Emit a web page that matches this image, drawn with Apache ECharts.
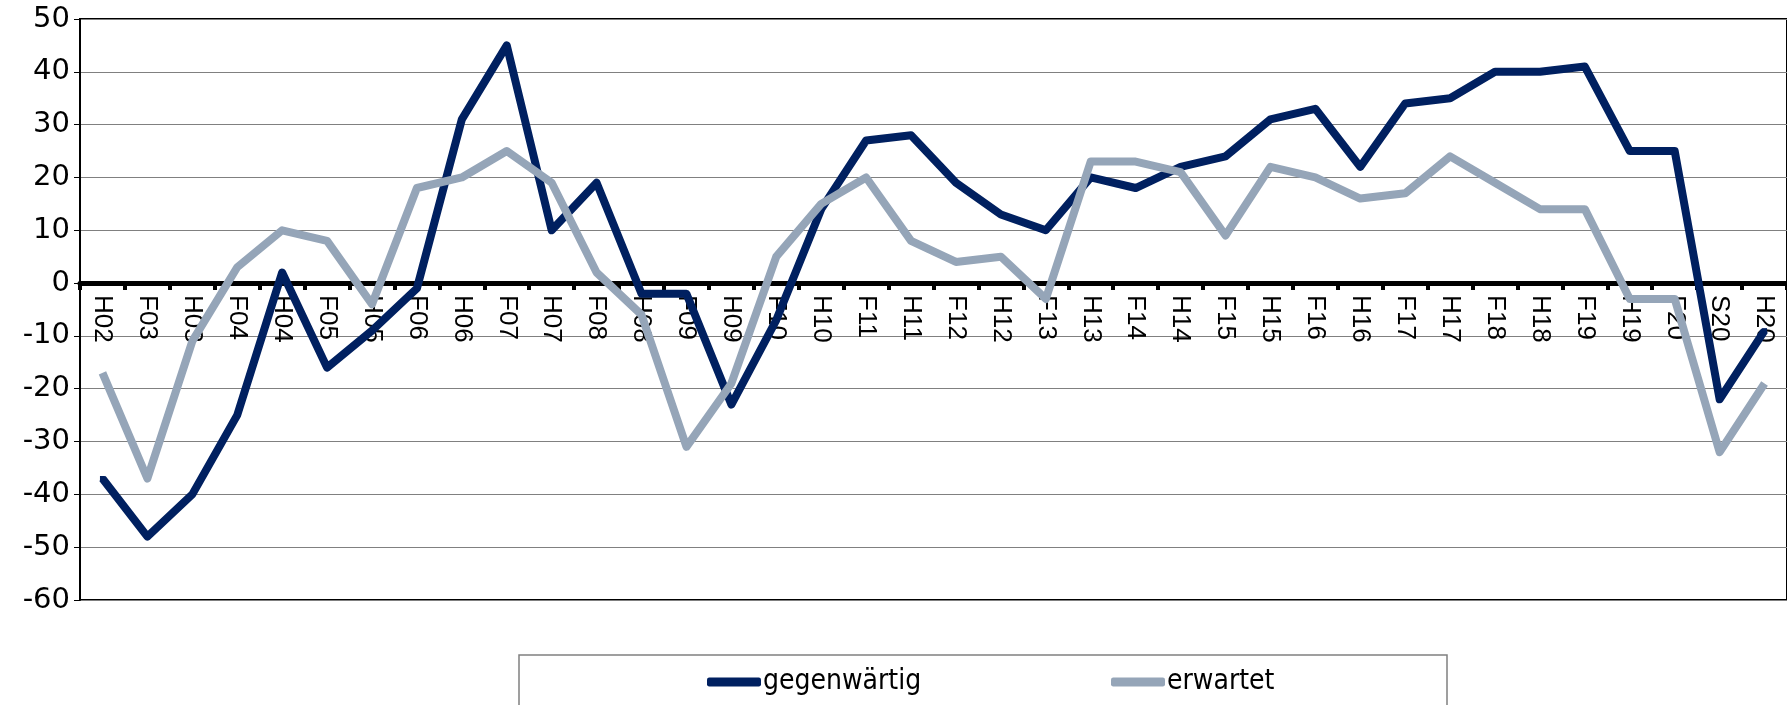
<!DOCTYPE html>
<html>
<head>
<meta charset="utf-8">
<script src="https://cdn.jsdelivr.net/npm/echarts@6/dist/echarts.min.js"></script>
<style>
    html, body { margin: 0; padding: 0; background: #fff; }
    #chart { width: 1787px; height: 705px; }
</style>
</head>
<body>
<div id="chart"></div>
<script>
// Halbjahre / Quartale
const categories = [
    'H02', 'F03', 'H03', 'F04', 'H04', 'F05', 'H05', 'F06', 'H06', 'F07',
    'H07', 'F08', 'H08', 'F09', 'H09', 'F10', 'H10', 'F11', 'H11', 'F12',
    'H12', 'F13', 'H13', 'F14', 'H14', 'F15', 'H15', 'F16', 'H16', 'F17',
    'H17', 'F18', 'H18', 'F19', 'H19', 'F20', 'S20', 'H20'
];

const gegenwaertig = [
    -37, -48, -40, -25, 2, -16, -9, -1, 31, 45,
    10, 19, -2, -2, -23, -7, 14, 27, 28, 19,
    13, 10, 20, 18, 22, 24, 31, 33, 22, 34,
    35, 40, 40, 41, 25, 25, -22, -9
];

const erwartet = [
    -17, -37, -11, 3, 10, 8, -4, 18, 20, 25,
    19, 2, -6, -31, -19, 5, 15, 20, 8, 4,
    5, -3, 23, 23, 21, 9, 22, 20, 16, 17,
    24, 19, 14, 14, -3, -3, -32, -19
];

const yMin = -60;
const yMax = 50;
const yStep = 10;

const GRID_TOP = 19;
const GRID_BOTTOM = 105;
const CHART_H = 705;

// Kategorienachse auf der Nulllinie (Beschriftung wandert mit)
const plotHeight = CHART_H - GRID_TOP - GRID_BOTTOM;
const zeroOffset = -plotHeight * (0 - yMin) / (yMax - yMin);

const legendFont = '"DejaVu Sans Condensed", "Liberation Sans", sans-serif';

const chart = echarts.init(document.getElementById('chart'), null, { renderer: 'canvas' });

chart.setOption({
    backgroundColor: '#fff',
    animation: false,
    grid: {
        left: 80,
        right: -2,
        top: GRID_TOP,
        bottom: GRID_BOTTOM,
        show: true,
        borderColor: '#000',
        borderWidth: 2,
        containLabel: false
    },
    // Legendenrahmen
    graphic: [{
        type: 'rect',
        shape: { x: 519, y: 655, width: 928, height: 80 },
        style: { fill: 'none', stroke: '#808080', lineWidth: 1.5 },
        silent: true
    }],
    legend: [{
        data: ['gegenwärtig'],
        left: 707,
        top: 668,
        icon: 'roundRect',
        itemWidth: 54,
        itemHeight: 9,
        itemGap: 4,
        padding: 0,
        textStyle: { fontFamily: legendFont, fontSize: 28, color: '#000', padding: [0, 0, 0, -3] }
    }, {
        data: ['erwartet'],
        left: 1111,
        top: 668,
        icon: 'roundRect',
        itemWidth: 54,
        itemHeight: 9,
        padding: 0,
        textStyle: { fontFamily: legendFont, fontSize: 28, color: '#000', padding: [0, 0, 0, -3] }
    }],
    xAxis: {
        type: 'category',
        data: categories,
        boundaryGap: true,
        offset: zeroOffset,
        axisLine: { onZero: false, lineStyle: { color: '#000', width: 5 } },
        axisTick: { show: true, interval: 0, length: 7, lineStyle: { color: '#000', width: 4 } },
        axisLabel: {
            interval: 0,
            rotate: -90,
            margin: 12,
            fontFamily: 'Liberation Sans',
            fontSize: 26,
            color: '#000'
        },
        splitLine: { show: false }
    },
    yAxis: {
        type: 'value',
        min: yMin,
        max: yMax,
        interval: yStep,
        axisLine: { show: true, lineStyle: { color: '#000', width: 2 } },
        axisTick: { show: true, length: 6, lineStyle: { color: '#000', width: 1 } },
        axisLabel: {
            margin: 10,
            fontFamily: 'DejaVu Sans',
            fontSize: 29,
            color: '#000'
        },
        splitLine: { show: true, lineStyle: { color: '#808080', width: 1.2 } }
    },
    series: [{
        name: 'gegenwärtig',
        type: 'line',
        data: gegenwaertig,
        symbol: 'rect',
        symbolSize: 5,
        showSymbol: true,
        itemStyle: { color: '#002060' },
        lineStyle: { color: '#002060', width: 8, join: 'round' },
        color: '#002060',
        z: 3
    }, {
        name: 'erwartet',
        type: 'line',
        data: erwartet,
        symbol: 'none',
        itemStyle: { color: '#95A5B8' },
        lineStyle: { color: '#95A5B8', width: 8, join: 'round' },
        color: '#95A5B8',
        z: 4
    }]
});
</script>
</body>
</html>
